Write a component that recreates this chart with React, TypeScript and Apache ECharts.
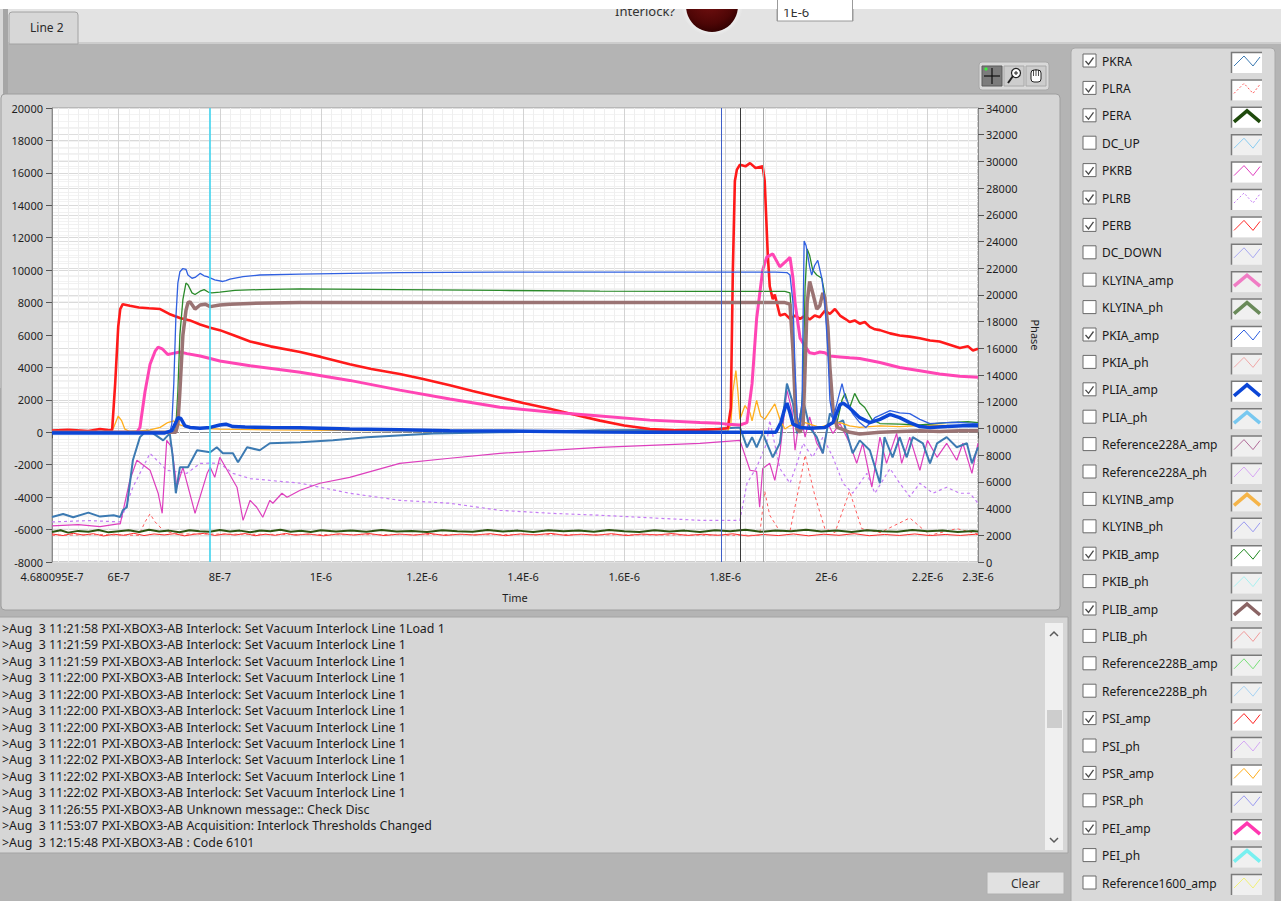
import React, { useEffect, useRef } from "react";
import * as echarts from "echarts";

// ---------- axes (time in ns) ----------
const X_MIN = 468.0095;
const X_MAX = 2300;
const X_LABEL_VALUES = [468.0095, 600, 800, 1000, 1200, 1400, 1600, 1800, 2000, 2200, 2300];
const X_MAJOR_GRID = [600, 800, 1000, 1200, 1400, 1600, 1800, 2000, 2200];
const X_MINOR_STEP = 20;
const AMP_MIN = -8000;
const AMP_MAX = 20000;
const AMP_STEP = 2000;
const PH_MIN = 0;
const PH_MAX = 34000;
const PH_STEP = 2000;

// cursors (ns)
const CURSOR_TIMES = [781, 1793, 1829, 1876];
const CURSOR_COLORS = ["#3fd3ee", "#3f5fc8", "#3a3a3a", "#a8a8a8"];

// ---------- phase series (right axis) ----------
const PERA = [[468,2250],[485,2380],[500,2200],[520,2330],[540,2260],[560,2400],[580,2220],[600,2300],[620,2380],[640,2250],[660,2420],[680,2280],[700,2350],[720,2230],[740,2380],[760,2300],[780,2260],[800,2400],[820,2290],[840,2350],[860,2220],[880,2360],[900,2300],[920,2420],[940,2270],[960,2340],[980,2250],[1000,2380],[1030,2290],[1060,2350],[1090,2260],[1120,2400],[1150,2280],[1180,2330],[1210,2250],[1240,2370],[1270,2300],[1300,2260],[1330,2400],[1360,2290],[1390,2350],[1420,2240],[1450,2380],[1480,2300],[1510,2350],[1540,2260],[1570,2400],[1600,2300],[1630,2250],[1660,2380],[1690,2290],[1720,2350],[1750,2240],[1780,2380],[1810,2300],[1840,2420],[1870,2260],[1900,2350],[1930,2300],[1960,2420],[1990,2280],[2020,2350],[2050,2250],[2080,2380],[2110,2300],[2140,2260],[2170,2400],[2200,2300],[2230,2350],[2260,2250],[2290,2330],[2300,2280]];

const PERB = [[468,2100],[490,1980],[510,2150],[530,2020],[550,2120],[570,1950],[590,2080],[610,2000],[630,2150],[650,1980],[670,2100],[690,2030],[710,2120],[730,1960],[750,2080],[770,2150],[790,1990],[810,2100],[830,2020],[850,2130],[870,1970],[890,2080],[910,2000],[930,2140],[950,2010],[975,2100],[1005,1960],[1035,2110],[1065,2020],[1095,2130],[1125,1980],[1155,2090],[1185,2010],[1215,2140],[1245,1990],[1275,2080],[1305,2020],[1335,2120],[1365,1970],[1395,2100],[1425,2030],[1455,2140],[1485,1990],[1515,2080],[1545,2010],[1575,2120],[1605,1980],[1635,2090],[1665,2030],[1695,2130],[1725,1990],[1755,2080],[1785,2000],[1815,2110],[1845,1950],[1875,2060],[1905,1980],[1935,2100],[1965,1960],[1995,2080],[2025,2000],[2055,2120],[2085,1970],[2115,2060],[2145,1990],[2175,2100],[2205,1980],[2235,2060],[2265,1990],[2295,2080],[2300,2050]];

const PLRA = [[468,2000],[560,2050],[640,2000],[652,3000],[662,3600],[672,3000],[690,2300],[720,2100],[1000,2050],[1500,2050],[1850,2000],[1868,2000],[1878,5300],[1888,3500],[1908,2300],[1928,2300],[1948,6000],[1958,8000],[1977,5000],[1997,2500],[2017,2200],[2046,5300],[2070,2500],[2106,2200],[2165,3300],[2205,2000],[2258,2500],[2300,2100]];

const PKRB = [[468,2700],[520,2800],[563,2650],[599,2850],[603,2850],[622,6120],[636,7620],[662,6870],[678,5150],[686,3650],[695,9110],[705,8590],[715,5600],[727,7090],[751,3650],[775,6640],[781,7090],[790,6340],[800,7840],[834,5600],[846,3120],[860,4620],[873,4100],[885,3350],[899,4620],[905,4400],[923,5150],[933,4850],[959,5370],[998,5900],[1057,6340],[1156,7390],[1255,7770],[1354,8140],[1552,8590],[1750,8890],[1829,9110],[1849,6870],[1862,6790],[1868,4100],[1874,7000],[1888,7390],[1898,6120],[1908,8140],[1922,12860],[1932,11360],[1938,8370],[1948,11130],[1958,9350],[1967,10860],[1981,8890],[1993,8140],[2003,10380],[2013,9630],[2027,10380],[2046,8890],[2060,7390],[2072,8890],[2090,5600],[2106,9350],[2119,7390],[2139,9630],[2149,7390],[2165,9350],[2185,6870],[2200,9110],[2219,7840],[2238,8890],[2258,7620],[2270,8890],[2288,6640],[2300,8890]];

const PKRA = [[468,3370],[490,3600],[510,3350],[540,3700],[563,3400],[590,3500],[603,3370],[608,3870],[616,4100],[628,7620],[642,9350],[656,9860],[668,9630],[688,9110],[701,9630],[707,7840],[713,5150],[721,7090],[737,7090],[755,8370],[781,8220],[794,8590],[806,8150],[826,8150],[836,7470],[854,8590],[879,8370],[899,8890],[959,8960],[1024,9110],[1091,9350],[1222,9630],[1354,9710],[1552,9860],[1750,9900],[1829,10080],[1843,8590],[1853,9350],[1862,8590],[1874,9630],[1894,7840],[1908,8890],[1922,13360],[1934,11870],[1942,9630],[1954,12110],[1967,10080],[1981,9350],[1993,8140],[2007,11130],[2021,10380],[2033,10610],[2052,8140],[2066,9110],[2086,8370],[2106,5900],[2115,9350],[2131,7840],[2145,9350],[2159,7840],[2171,9350],[2191,8890],[2205,7390],[2219,8890],[2238,9350],[2258,8590],[2278,8890],[2288,7390],[2300,8590]];

const PLRB = [[468,3000],[540,3100],[603,3000],[628,5600],[662,8140],[695,6870],[735,6640],[761,7390],[781,7400],[800,7390],[826,6640],[860,6250],[959,5900],[1057,5150],[1156,4620],[1255,4400],[1354,3870],[1453,3650],[1552,3500],[1750,3120],[1829,3120],[1843,5900],[1862,7090],[1882,8890],[1888,10610],[1908,7000],[1928,5900],[1942,7390],[1954,8890],[1973,7840],[1993,9350],[2013,7840],[2033,5900],[2052,5150],[2080,6640],[2096,5150],[2126,7000],[2145,5900],[2165,4900],[2185,5900],[2211,5150],[2238,5600],[2264,5150],[2284,5150],[2300,4400]];

// ---------- amplitude series (left axis) ----------
const PSI_AMP = [[468,100],[500,150],[540,80],[563,200],[583,120],[587,150],[593,3000],[599,6500],[603,7600],[608,7900],[622,7800],[640,7700],[660,7650],[682,7600],[700,7300],[721,7050],[741,6900],[761,6650],[781,6450],[800,6300],[830,5950],[860,5600],[900,5300],[959,4950],[1000,4650],[1057,4200],[1100,3900],[1156,3600],[1200,3300],[1255,2900],[1300,2550],[1354,2150],[1400,1800],[1453,1450],[1500,1100],[1552,720],[1600,420],[1651,200],[1700,120],[1750,150],[1789,200],[1805,250],[1811,1500],[1815,10000],[1819,15500],[1823,16200],[1829,16500],[1840,16400],[1849,16600],[1860,16300],[1874,16400],[1878,15500],[1884,11000],[1888,9000],[1894,8200],[1898,8500],[1908,7200],[1918,7300],[1928,7000],[1938,7200],[1948,7000],[1958,7200],[1967,6950],[1977,7200],[1987,7100],[1997,7500],[2007,7300],[2017,7600],[2027,7200],[2037,7000],[2046,6800],[2056,6900],[2066,6700],[2076,6800],[2086,6500],[2096,6350],[2106,6300],[2126,6100],[2145,5970],[2165,5900],[2185,5800],[2205,5660],[2224,5600],[2244,5400],[2264,5200],[2280,5300],[2290,5050],[2300,5150]];

const PEI_AMP = [[468,0],[600,0],[636,0],[642,300],[652,2500],[662,4200],[672,5000],[678,5250],[686,5150],[697,4800],[705,4850],[721,4950],[735,4850],[761,4700],[781,4550],[800,4400],[860,4100],[959,3700],[1057,3200],[1156,2600],[1255,2050],[1354,1540],[1453,1250],[1552,1000],[1651,750],[1750,600],[1789,550],[1805,500],[1829,450],[1843,600],[1853,3000],[1862,7000],[1874,10000],[1882,10800],[1894,11000],[1908,10200],[1922,10600],[1928,10800],[1934,9500],[1938,8000],[1948,5800],[1958,5300],[1967,4900],[1977,4850],[1987,4950],[1997,4900],[2007,4700],[2027,4650],[2046,4600],[2066,4550],[2106,4300],[2145,4000],[2185,3800],[2224,3600],[2264,3450],[2300,3400]];

const PKIA_AMP = [[468,0],[701,0],[705,500],[709,3000],[713,7000],[717,9200],[721,9900],[727,10100],[733,10050],[737,9700],[745,9500],[751,9550],[761,9800],[769,9650],[775,9600],[790,9400],[806,9300],[812,9350],[820,9450],[846,9600],[879,9700],[959,9750],[1057,9800],[1156,9850],[1354,9880],[1552,9880],[1750,9880],[1900,9880],[1922,9850],[1928,9700],[1934,8000],[1938,4000],[1942,1000],[1948,200],[1952,2000],[1954,7000],[1956,11800],[1960,11500],[1967,10200],[1971,9700],[1977,10300],[1983,10600],[1991,9500],[1997,8000],[2003,5000],[2007,2000],[2013,800],[2021,1800],[2031,3000],[2037,2200],[2052,1150],[2066,600],[2078,290],[2096,900],[2126,1340],[2145,1200],[2165,1150],[2185,800],[2205,540],[2238,600],[2258,620],[2280,560],[2300,540]];

const PKIB_AMP = [[468,0],[709,0],[713,300],[717,2500],[721,6000],[727,8200],[733,9200],[737,9100],[745,8600],[751,8500],[761,8700],[769,8800],[777,8650],[784,8600],[800,8650],[830,8750],[879,8800],[959,8850],[1156,8800],[1354,8750],[1552,8700],[1750,8690],[1918,8690],[1928,8600],[1934,6000],[1938,2500],[1942,500],[1948,200],[1954,3000],[1958,9000],[1962,11300],[1967,10900],[1973,10000],[1981,9700],[1991,9500],[1997,8500],[2003,6000],[2007,3500],[2013,1200],[2021,600],[2031,2000],[2037,2400],[2046,1500],[2056,2400],[2066,1800],[2076,1530],[2090,800],[2106,540],[2145,500],[2185,450],[2238,600],[2258,620],[2280,650],[2300,600]];

const PLIB_AMP = [[468,0],[713,0],[717,500],[721,2500],[727,6000],[733,7500],[737,8000],[741,8050],[751,7600],[761,7850],[771,7900],[781,7750],[800,7850],[820,7900],[860,7950],[959,8000],[1156,8000],[1552,8000],[1918,8000],[1928,7900],[1934,5000],[1938,2000],[1942,200],[1948,0],[1954,500],[1958,4000],[1962,8000],[1967,9300],[1973,8600],[1981,7600],[1987,7800],[1993,8600],[1997,8300],[2003,6500],[2007,4000],[2013,1500],[2021,300],[2031,200],[2046,0],[2066,-100],[2106,0],[2145,50],[2185,100],[2224,50],[2264,100],[2300,100]];

const PLIA_AMP = [[468,-50],[600,-50],[690,-50],[705,100],[713,600],[717,900],[723,850],[731,400],[741,300],[761,250],[781,300],[800,450],[812,500],[826,350],[850,320],[900,300],[959,280],[1057,200],[1156,150],[1255,100],[1354,80],[1453,50],[1552,20],[1651,0],[1750,0],[1900,0],[1910,600],[1918,1500],[1922,1800],[1928,1200],[1934,500],[1948,300],[1967,250],[1997,300],[2013,600],[2027,1700],[2033,1800],[2046,1500],[2066,900],[2086,600],[2106,800],[2126,1100],[2145,900],[2165,600],[2185,350],[2205,300],[2238,350],[2270,400],[2300,400]];

const PSR_AMP = [[468,0],[583,0],[590,300],[599,1000],[606,700],[612,200],[622,50],[642,80],[662,150],[682,300],[697,600],[709,700],[721,450],[733,350],[761,250],[800,200],[900,150],[1100,100],[1400,50],[1700,50],[1805,80],[1811,500],[1815,2500],[1821,3800],[1825,2500],[1829,800],[1839,1650],[1849,1200],[1853,700],[1862,1960],[1870,1000],[1878,800],[1898,1750],[1908,800],[1918,200],[1928,400],[1948,700],[1967,500],[1987,300],[2007,500],[2027,600],[2046,400],[2066,300],[2106,400],[2145,350],[2205,450],[2264,400],[2300,350]];

// ---------- legend ----------
const LEGEND_NAMES = ["PKRA","PLRA","PERA","DC_UP","PKRB","PLRB","PERB","DC_DOWN","KLYINA_amp","KLYINA_ph","PKIA_amp","PKIA_ph","PLIA_amp","PLIA_ph","Reference228A_amp","Reference228A_ph","KLYINB_amp","KLYINB_ph","PKIB_amp","PKIB_ph","PLIB_amp","PLIB_ph","Reference228B_amp","Reference228B_ph","PSI_amp","PSI_ph","PSR_amp","PSR_ph","PEI_amp","PEI_ph","Reference1600_amp"];
const LEGEND_CHECKED = [1,1,1,0,1,1,1,0,0,0,1,0,1,0,0,0,0,0,1,0,1,0,0,0,1,0,1,0,1,0,0];
const LEGEND_COLORS = ["#3c7ab2","#ff5a5a","#1f4a0c","#8ccdf0","#e040c0","#c47cf4","#ff2a2a","#a8a8f0","#f07cc4","#6a8a5a","#3060e0","#f0a8a8","#0c46d6","#78c8f0","#b06a98","#d8a8f4","#f5b448","#9a9af0","#208a20","#a8f0f0","#8a6464","#f09a9a","#78e078","#a8d4f4","#ff2020","#d4a8f4","#ffae1c","#9a9af0","#ff38b0","#78f0f0","#f0f078"];
const LEGEND_KIND = ["thin","dash","thick","thin","thin","dash","thin","thin","thick","thick","thin","thin","thick","thick","thin","thin","thick","thin","thin","thin","thick","thin","thin","thin","thin","thin","thin","thin","thick","thick","thin"];

// ---------- log ----------
const LOG_LINES = [
  ">Aug  3 11:21:58 PXI-XBOX3-AB Interlock: Set Vacuum Interlock Line 1Load 1",
  ">Aug  3 11:21:59 PXI-XBOX3-AB Interlock: Set Vacuum Interlock Line 1",
  ">Aug  3 11:21:59 PXI-XBOX3-AB Interlock: Set Vacuum Interlock Line 1",
  ">Aug  3 11:22:00 PXI-XBOX3-AB Interlock: Set Vacuum Interlock Line 1",
  ">Aug  3 11:22:00 PXI-XBOX3-AB Interlock: Set Vacuum Interlock Line 1",
  ">Aug  3 11:22:00 PXI-XBOX3-AB Interlock: Set Vacuum Interlock Line 1",
  ">Aug  3 11:22:00 PXI-XBOX3-AB Interlock: Set Vacuum Interlock Line 1",
  ">Aug  3 11:22:01 PXI-XBOX3-AB Interlock: Set Vacuum Interlock Line 1",
  ">Aug  3 11:22:02 PXI-XBOX3-AB Interlock: Set Vacuum Interlock Line 1",
  ">Aug  3 11:22:02 PXI-XBOX3-AB Interlock: Set Vacuum Interlock Line 1",
  ">Aug  3 11:22:02 PXI-XBOX3-AB Interlock: Set Vacuum Interlock Line 1",
  ">Aug  3 11:26:55 PXI-XBOX3-AB Unknown message:: Check Disc",
  ">Aug  3 11:53:07 PXI-XBOX3-AB Acquisition: Interlock Thresholds Changed",
  ">Aug  3 12:15:48 PXI-XBOX3-AB : Code 6101",
];

const PLOT_SERIES = [
  { name: "PERB", data: PERB, axis: 1, color: "#ff2a2a", width: 1, dash: false },
  { name: "PLRA", data: PLRA, axis: 1, color: "#ff5a5a", width: 1, dash: true },
  { name: "PERA", data: PERA, axis: 1, color: "#2c5410", width: 2, dash: false },
  { name: "PLRB", data: PLRB, axis: 1, color: "#c47cf4", width: 1.2, dash: true },
  { name: "PKRB", data: PKRB, axis: 1, color: "#dd3fbd", width: 1.2, dash: false },
  { name: "PKRA", data: PKRA, axis: 1, color: "#3c7ab2", width: 2, dash: false },
  { name: "PSR_amp", data: PSR_AMP, axis: 0, color: "#ffae1c", width: 1.3, dash: false },
  { name: "PSI_amp", data: PSI_AMP, axis: 0, color: "#ff1a1a", width: 2.6, dash: false },
  { name: "PEI_amp", data: PEI_AMP, axis: 0, color: "#ff45b4", width: 3, dash: false },
  { name: "PKIB_amp", data: PKIB_AMP, axis: 0, color: "#2a8a2a", width: 1.3, dash: false },
  { name: "PLIB_amp", data: PLIB_AMP, axis: 0, color: "#9a7373", width: 3.5, dash: false },
  { name: "PKIA_amp", data: PKIA_AMP, axis: 0, color: "#3060e0", width: 1.3, dash: false },
  { name: "PLIA_amp", data: PLIA_AMP, axis: 0, color: "#0c46d6", width: 3.5, dash: false },
];

const FONT = "'Noto Sans', 'DejaVu Sans', sans-serif";

function fmtTime(v: number) {
  const s = (v * 1e-9).toExponential(6);
  const [m, e] = s.split("e");
  return `${parseFloat(m)}E${parseInt(e, 10)}`;
}

function buildGraphics() {
  const g: any[] = [];
  const rect = (x: number, y: number, w: number, h: number, fill: string, stroke?: string, z = -10, r: any = 0, lw = 1) =>
    g.push({ type: "rect", z, silent: true, shape: { x, y, width: w, height: h, r }, style: { fill, stroke: stroke || null, lineWidth: lw } });
  const text = (x: number, y: number, t: string, size: number, color = "#1a1a1a", align = "left", z = 10, family = FONT) =>
    g.push({ type: "text", z, silent: true, x, y, style: { text: t, fill: color, font: `${size}px ${family}`, textAlign: align, align, textVerticalAlign: "middle", verticalAlign: "middle" } });
  const poly = (pts: number[][], color: string, lw: number, z = 10, dash?: number[]) =>
    g.push({ type: "polyline", z, silent: true, shape: { points: pts }, style: { stroke: color, lineWidth: lw, fill: null, lineDash: dash || null } });

  // page background
  rect(0, 0, 1281, 901, "#b4b4b4");
  rect(0, 0, 1281, 43, "#e3e3e3");
  rect(0, 42, 1281, 2, "#cdcdcd");
  // left strip
  rect(0, 0, 3, 388, "#d8d8d8");
  rect(3, 0, 5, 388, "#a6a6a6");
  // tab
  rect(9, 12, 69, 32, "#d7d7d7", "#a2a2a2", -9, [3, 3, 0, 0]);
  text(30, 27, "Line 2", 12, "#2a2a2a");
  // interlock indicator
  text(675, 11, "Interlock?", 13, "#333", "right", 5);
  g.push({ type: "circle", z: 5, silent: true, shape: { cx: 712, cy: 5, r: 31 }, style: { fill: new echarts.graphic.RadialGradient(0.5, 0.5, 0.5, [{ offset: 0.8, color: "#f2f2f2" }, { offset: 1, color: "#e3e3e3" }]) } });
  g.push({ type: "circle", z: 5, silent: true, shape: { cx: 712, cy: 6, r: 26 }, style: { fill: new echarts.graphic.RadialGradient(0.45, 0.35, 0.7, [{ offset: 0, color: "#7a1212" }, { offset: 0.7, color: "#4e0606" }, { offset: 1, color: "#2c0000" }]) } });
  rect(777, 0, 76, 21, "#ffffff", "#9a9a9a", 5);
  text(783, 12, "1E-6", 13, "#333", "left", 6);
  rect(0, 0, 1281, 9, "#ffffff", undefined, 7);
  rect(777, 0, 76, 9, "#ffffff", undefined, 8);
  g.push({ type: "line", z: 8, silent: true, shape: { x1: 777.5, y1: 0, x2: 777.5, y2: 21 }, style: { stroke: "#9a9a9a", lineWidth: 1 } });
  g.push({ type: "line", z: 8, silent: true, shape: { x1: 852.5, y1: 0, x2: 852.5, y2: 21 }, style: { stroke: "#9a9a9a", lineWidth: 1 } });

  // graph panel
  rect(1, 94, 1059, 516, "#d5d5d5", "#9e9e9e", -9, 4);
  // toolbar
  rect(979, 62, 70, 28, "#d9d9d9", "#a8a8a8", -8, 3);
  rect(982, 66, 20, 20, "#7c7c7c", "#5a5a5a", -7);
  poly([[992, 68], [992, 84]], "#111", 1.2);
  poly([[984, 76], [1000, 76]], "#111", 1.2);
  g.push({ type: "circle", z: 10, silent: true, shape: { cx: 986, cy: 69, r: 1.6 }, style: { fill: "#3cf03c" } });
  rect(1004, 66, 20, 20, "#cdcdcd", "#a8a8a8", -7);
  g.push({ type: "circle", z: 10, silent: true, shape: { cx: 1016, cy: 73, r: 4.5 }, style: { fill: "#fff", stroke: "#222", lineWidth: 1.2 } });
  poly([[1013, 76], [1008, 83]], "#222", 2);
  poly([[1014, 73], [1018, 73]], "#222", 1);
  poly([[1016, 71], [1016, 75]], "#222", 1);
  rect(1026, 66, 20, 20, "#cdcdcd", "#a8a8a8", -7);
  g.push({ type: "rect", z: 10, silent: true, shape: { x: 1031, y: 70, width: 10, height: 12, r: 3 }, style: { fill: "#fff", stroke: "#222", lineWidth: 1 } });
  poly([[1033.5, 70], [1033.5, 76]], "#222", 0.8);
  poly([[1036, 69], [1036, 76]], "#222", 0.8);
  poly([[1038.5, 70], [1038.5, 76]], "#222", 0.8);

  // log panel
  rect(-2, 617, 1070, 236, "#d6d6d6", "#a4a4a4", -9);
  LOG_LINES.forEach((l, i) => text(2, 628.3 + i * 16.46, l, 12.4, "#1c1c1c", "left", 10));
  rect(1045, 623, 18, 227, "#f0f0f0", undefined, -8);
  poly([[1050, 636], [1054, 632], [1058, 636]], "#5a5a5a", 1.5);
  poly([[1050, 838], [1054, 842], [1058, 838]], "#5a5a5a", 1.5);
  rect(1047, 710, 15, 18, "#cdcdcd", undefined, -7);
  // clear button
  rect(987, 872, 77, 22, "#e1e1e1", "#b0b0b0", -8);
  text(1025.5, 883, "Clear", 12, "#333", "center");

  // legend panel
  rect(1071, 48, 204, 860, "#d9d9d9", "#a8a8a8", -9, 4);
  LEGEND_NAMES.forEach((name, i) => {
    const y = 61 + i * 27.4;
    rect(1083, y - 7, 13, 13, "#ffffff", "#6a6a6a", 2);
    if (LEGEND_CHECKED[i]) poly([[1085.5, y], [1088.5, y + 3.5], [1093.5, y - 3.5]], "#4a4a4a", 1.3);
    text(1102, y, name, 12, "#1a1a1a");
    rect(1231, y - 9, 31, 21, LEGEND_CHECKED[i] ? "#ffffff" : "#f0f0f0", undefined, 2);
    poly([[1231.5, y + 12], [1231.5, y - 8.5], [1262, y - 8.5]], "#7a7a7a", 1.5, 3);
    const c = LEGEND_COLORS[i];
    const k = LEGEND_KIND[i];
    if (k === "thick") poly([[1234, y + 6], [1247, y - 5], [1260, y + 6]], c, 3.5, 4);
    else poly([[1234, y + 5], [1244, y - 5], [1253, y + 5], [1260, y - 4]], c, 1, 4, k === "dash" ? [2, 2] : undefined);
  });
  return g;
}

function buildOption() {
  const minor: number[] = [];
  for (let v = 480; v < X_MAX; v += X_MINOR_STEP) if (v % 200 !== 0) minor.push(v);
  const gridLines = [
    ...minor.map((v) => ({ xAxis: v, lineStyle: { color: "#efefef", width: 1, type: "solid" } })),
    ...X_MAJOR_GRID.map((v) => ({ xAxis: v, lineStyle: { color: "#d3d3d3", width: 1, type: "solid" } })),
  ];
  const cursorLines = CURSOR_TIMES.map((t, i) => ({ xAxis: t, lineStyle: { color: CURSOR_COLORS[i], width: i === 0 ? 1.6 : 1, type: "solid" } }));

  const series: any[] = PLOT_SERIES.map((s, i) => {
    const o: any = {
      name: s.name,
      type: "line",
      xAxisIndex: 0,
      yAxisIndex: s.axis,
      data: s.data,
      showSymbol: false,
      symbol: "none",
      silent: true,
      z: 2,
      emphasis: { disabled: true },
      lineStyle: { color: s.color, width: s.width, type: s.dash ? [3, 3] : "solid" },
      itemStyle: { color: s.color },
    };
    if (i === 0) o.markLine = { silent: true, z: 1, symbol: ["none", "none"], label: { show: false }, emphasis: { disabled: true }, data: gridLines };
    if (i === 1) o.markLine = { silent: true, z: 6, symbol: ["none", "none"], label: { show: false }, emphasis: { disabled: true }, data: cursorLines };
    return o;
  });

  const labelStyle = { color: "#1e1e1e", fontSize: 11, fontFamily: FONT };
  return {
    animation: false,
    textStyle: { fontFamily: FONT },
    grid: { left: 52, top: 108, width: 926, height: 454, show: true, backgroundColor: "#ffffff", borderColor: "#9a9a9a", borderWidth: 1 },
    graphic: buildGraphics(),
    xAxis: {
      type: "value",
      min: X_MIN,
      max: X_MAX,
      name: "Time",
      nameLocation: "middle",
      nameGap: 30,
      nameTextStyle: { color: "#1e1e1e", fontSize: 11, fontFamily: FONT },
      axisLine: { show: true, lineStyle: { color: "#8a8a8a" } },
      axisTick: { show: true, length: 6, customValues: X_LABEL_VALUES, lineStyle: { color: "#555" } },
      axisLabel: { ...labelStyle, margin: 9, customValues: X_LABEL_VALUES, formatter: (v: number) => fmtTime(v), showMinLabel: true, showMaxLabel: true },
      splitLine: { show: false },
    },
    yAxis: [
      {
        type: "value",
        min: AMP_MIN,
        max: AMP_MAX,
        interval: AMP_STEP,
        position: "left",
        axisLine: { show: true, lineStyle: { color: "#8a8a8a" } },
        axisTick: { show: true, length: 6, lineStyle: { color: "#555" } },
        axisLabel: { ...labelStyle, margin: 9, formatter: (v: number) => String(v) },
        splitLine: { show: true, lineStyle: { color: "#dadada" } },
        minorTick: { show: false, splitNumber: 5 },
        minorSplitLine: { show: true, lineStyle: { color: "#f1f1f1" } },
      },
      {
        type: "value",
        min: PH_MIN,
        max: PH_MAX,
        interval: PH_STEP,
        position: "right",
        name: "Phase",
        nameLocation: "middle",
        nameRotate: -90,
        nameGap: 52,
        nameTextStyle: { color: "#1e1e1e", fontSize: 11, fontFamily: FONT },
        axisLine: { show: true, lineStyle: { color: "#8a8a8a" } },
        axisTick: { show: true, length: 6, lineStyle: { color: "#555" } },
        axisLabel: { ...labelStyle, margin: 8, formatter: (v: number) => String(v) },
        splitLine: { show: true, lineStyle: { color: "#dedede" } },
        minorTick: { show: false, splitNumber: 4 },
        minorSplitLine: { show: true, lineStyle: { color: "#f3f3f3" } },
      },
    ],
    series,
  };
}

export default function App() {
  const ref = useRef<HTMLDivElement>(null);
  useEffect(() => {
    document.body.style.margin = "0";
    const chart = echarts.init(ref.current as HTMLDivElement, null, { renderer: "svg" });
    chart.setOption(buildOption() as any);
    return () => chart.dispose();
  }, []);
  return <div ref={ref} style={{ width: 1281, height: 901, overflow: "hidden" }} />;
}
